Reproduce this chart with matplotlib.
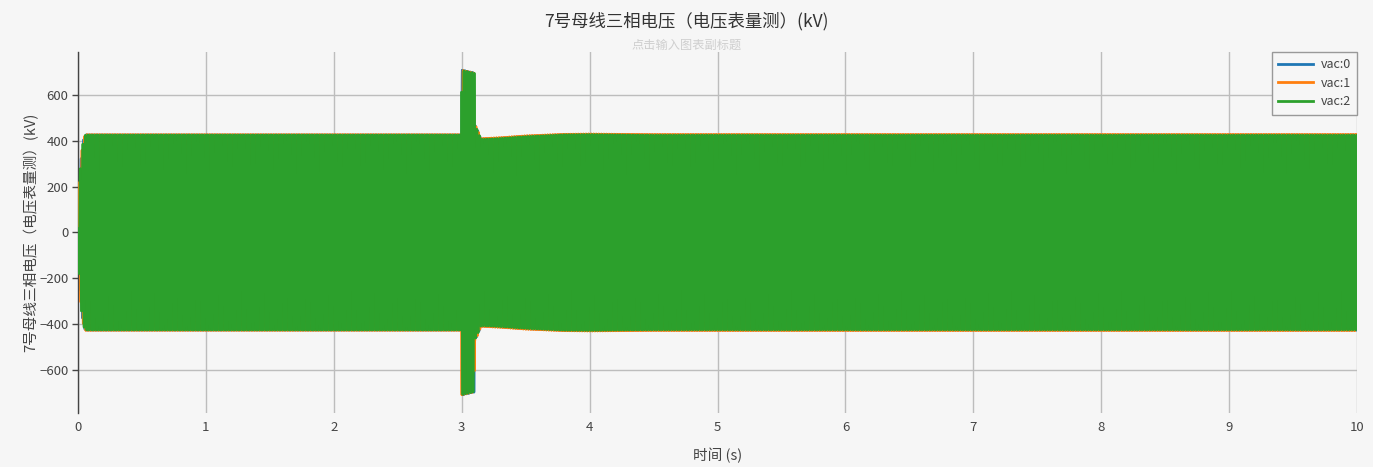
import numpy as np
import matplotlib
matplotlib.use("Agg")
import matplotlib.pyplot as plt
from matplotlib.collections import LineCollection

plt.rcParams['font.family'] = ['Noto Sans CJK SC', 'DejaVu Sans']
plt.rcParams['path.simplify'] = False

# ---- data ----
title = "7号母线三相电压（电压表量测）(kV)"
subtitle = "点击输入图表副标题"
ylabel = "7号母线三相电压（电压表量测）(kV)"
xlabel = "时间 (s)"
series_names = ["vac:0", "vac:1", "vac:2"]
series_colors = ["#1f77b4", "#ff7f0e", "#2ca02c"]

freq_hz = 50.0
phase_deg = [0.0, -120.0, 120.0]

# amplitude envelope knots (time s, peak kV) per phase
env_t = [0.0, 0.01, 0.02, 0.03, 0.04, 0.05, 0.06, 2.999, 3.0, 3.1, 3.101, 3.12, 3.15,
         3.3, 3.5, 3.8, 4.0, 4.5, 10.0]
env_amp0 = [0, 200, 290, 350, 390, 415, 424, 424, 706, 693, 468, 448, 406,
            410, 418, 425, 426, 424, 424]
env_amp1 = [0, 200, 290, 350, 390, 415, 425, 425, 705, 692, 470, 450, 408,
            412, 420, 427, 428, 426, 426]
env_amp2 = [0, 200, 290, 350, 390, 415, 423, 423, 704, 691, 466, 446, 404,
            408, 416, 424, 425, 422, 422]
env_amps = [env_amp0, env_amp1, env_amp2]

x_ticks = list(range(0, 11))
y_ticks = [-600, -400, -200, 0, 200, 400, 600]

# ---- figure ----
bg = "#f6f6f6"
fig = plt.figure(figsize=(13.73, 4.67), dpi=100, facecolor=bg)
ax = fig.add_axes([0.0568, 0.1156, 0.9316, 0.7731], facecolor=bg)

t = np.linspace(0, 10, 200001)
for k, (name, col, ph, amp) in enumerate(zip(series_names, series_colors, phase_deg, env_amps)):
    a = np.interp(t, env_t, amp)
    v = a * np.sin(2 * np.pi * freq_hz * t + np.deg2rad(ph))
    # split the trace into monotonic pieces so the stroke renders solid
    d = np.diff(v)
    turn = np.where(np.sign(d[1:]) != np.sign(d[:-1]))[0] + 1
    bounds = np.concatenate([[0], turn, [len(v) - 1]])
    segs = [np.column_stack([t[b0:b1 + 1], v[b0:b1 + 1]])
            for b0, b1 in zip(bounds[:-1], bounds[1:]) if b1 > b0]
    lc = LineCollection(segs, colors=col, linewidths=2.0, capstyle="round",
                        joinstyle="round", zorder=2 + k)
    ax.add_collection(lc)
    ax.plot([], [], color=col, lw=2.0, label=name)

ax.set_xlim(0, 10)
ax.set_ylim(-785, 785)
ax.set_xticks(x_ticks)
ax.set_yticks(y_ticks)
ax.set_yticklabels([("\u2212" + str(-v)) if v < 0 else str(v) for v in y_ticks])
ax.grid(True, color="#bdbdbd", lw=1.0)
ax.set_axisbelow(True)
for s in ["top", "right", "bottom"]:
    ax.spines[s].set_visible(False)
ax.spines["left"].set_color("#444444")
ax.spines["left"].set_linewidth(1.0)
ax.tick_params(axis="x", length=0, pad=6, labelcolor="#444444", labelsize=9.5)
ax.tick_params(axis="y", colors="#444444", labelcolor="#444444", labelsize=9.5,
               length=4, width=1, pad=3)

ax.set_xlabel(xlabel, fontsize=10.5, color="#444444")
ax.xaxis.set_label_coords(0.5, -0.095)
ax.set_ylabel(ylabel, fontsize=10.5, color="#444444")
ax.yaxis.set_label_coords(-0.031, 0.5)

fig.text(0.5, 0.955, title, ha="center", va="center", fontsize=12.5, color="#333333")
fig.text(0.5, 0.903, subtitle, ha="center", va="center", fontsize=8.8, color="#cfcfcf")

leg = ax.legend(loc="upper right", bbox_to_anchor=(1.0, 1.0), frameon=True, fancybox=False,
                fontsize=9, handlelength=2.8, borderaxespad=0.0, labelcolor="#444444",
                handletextpad=0.6, borderpad=0.5, labelspacing=0.45)
leg.get_frame().set_edgecolor("#999999")
leg.get_frame().set_facecolor(bg)
leg.get_frame().set_alpha(1.0)
leg.get_frame().set_linewidth(1.0)
leg.set_zorder(10)

fig.savefig("out.png", dpi=100, facecolor=bg)
